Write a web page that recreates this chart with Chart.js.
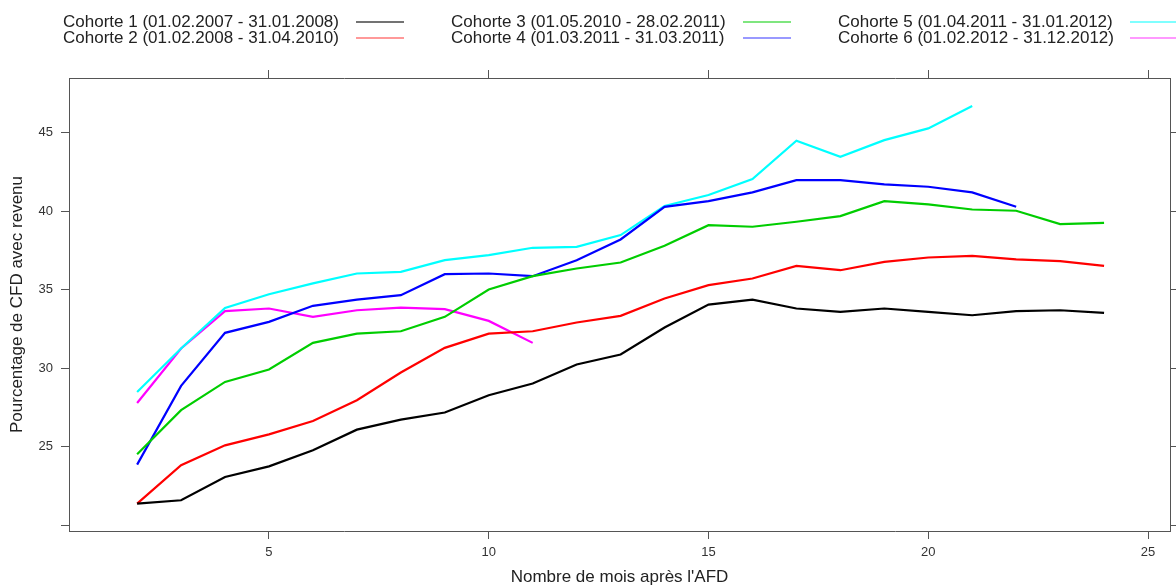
<!DOCTYPE html>
<html>
<head>
<meta charset="utf-8">
<script src="https://cdn.jsdelivr.net/npm/chart.js@4.4.1/dist/chart.umd.min.js"></script>
<style>
  html, body { margin: 0; padding: 0; background: #fff; }
  #wrap { width: 1176px; height: 588px; }
</style>
</head>
<body>
<div id="wrap"><canvas id="cohortChart"></canvas></div>
<script>
//Data
const months = [2, 3, 4, 5, 6, 7, 8, 9, 10, 11, 12, 13, 14, 15, 16, 17, 18, 19, 20, 21, 22, 23, 24];

const cohortLabels = [
    "Cohorte 1 (01.02.2007 - 31.01.2008)",
    "Cohorte 2 (01.02.2008 - 31.04.2010)",
    "Cohorte 3 (01.05.2010 - 28.02.2011)",
    "Cohorte 4 (01.03.2011 - 31.03.2011)",
    "Cohorte 5 (01.04.2011 - 31.01.2012)",
    "Cohorte 6 (01.02.2012 - 31.12.2012)"
];

const cohorte1 = [21.36, 21.58, 23.06, 23.74, 24.76, 26.08, 26.72, 27.17, 28.27, 29.02, 30.23, 30.87,
                  32.59, 34.05, 34.37, 33.80, 33.58, 33.80, 33.58, 33.37, 33.63, 33.69, 33.52];
const cohorte2 = [21.36, 23.81, 25.08, 25.78, 26.63, 27.95, 29.72, 31.29, 32.20, 32.35, 32.91, 33.33,
                  34.44, 35.29, 35.71, 36.52, 36.24, 36.77, 37.05, 37.16, 36.93, 36.82, 36.52];
const cohorte3 = [24.51, 27.32, 29.12, 29.91, 31.61, 32.20, 32.35, 33.27, 35.01, 35.86, 36.35, 36.73,
                  37.80, 39.11, 39.01, 39.33, 39.69, 40.64, 40.43, 40.11, 40.03, 39.18, 39.26];
const cohorte4 = [23.85, 28.87, 32.25, 32.95, 33.97, 34.37, 34.65, 35.99, 36.03, 35.86, 36.88, 38.20,
                  40.28, 40.64, 41.20, 41.98, 41.98, 41.71, 41.56, 41.20, 40.28];
const cohorte5 = [28.48, 31.25, 33.84, 34.71, 35.40, 36.03, 36.14, 36.88, 37.20, 37.67, 37.73, 38.48,
                  40.33, 41.03, 42.05, 44.49, 43.47, 44.53, 45.28, 46.70];
const cohorte6 = [27.78, 31.25, 33.63, 33.80, 33.27, 33.69, 33.86, 33.76, 33.01, 31.61];

const xTicks = [5, 10, 15, 20, 25];
const yTicks = [20, 25, 30, 35, 40, 45];

const cohortValues = [cohorte1, cohorte2, cohorte3, cohorte4, cohorte5, cohorte6];
const lineColors = ["#000000", "#ff0000", "#00cd00", "#0000ff", "#00ffff", "#ff00ff"];
const legendColors = ["rgba(0,0,0,0.55)", "rgba(255,0,0,0.4)", "rgba(0,205,0,0.5)",
                      "rgba(0,0,255,0.4)", "rgba(0,255,255,0.5)", "rgba(255,0,255,0.4)"];

const axisColor = "#555555";
const fontName = "'Liberation Sans', Arial, sans-serif";

let datasets = [];
for (let i = 0; i < cohortValues.length; i++){
    datasets.push({
        label: cohortLabels[i],
        data: cohortValues[i].map((v, j) => ({x: months[j], y: v})),
        borderColor: lineColors[i],
        borderWidth: 2.2,
        pointRadius: 0,
        tension: 0,
        fill: false
    });
}

//legend drawn in three columns, text then line sample
const legendTextX = [63, 451, 838];
const legendLineX = [356, 743, 1130];
const legendRowY = [22, 38];

const legendPlugin = {
    id: 'latticeLegend',
    afterDraw(chart) {
        const ctx = chart.ctx;
        ctx.save();
        ctx.font = "17px " + fontName;
        ctx.textBaseline = "middle";
        ctx.textAlign = "left";
        chart.data.datasets.forEach((ds, i) => {
            const col = Math.floor(i / 2);
            const row = i % 2;
            ctx.fillStyle = "#222";
            ctx.fillText(ds.label, legendTextX[col], legendRowY[row]);
            ctx.strokeStyle = legendColors[i];
            ctx.lineWidth = 2;
            ctx.beginPath();
            ctx.moveTo(legendLineX[col], legendRowY[row]);
            ctx.lineTo(legendLineX[col] + 48, legendRowY[row]);
            ctx.stroke();
        });
        ctx.restore();
    }
};

const setTicks = list => scale => { scale.ticks = list.map(v => ({value: v})); };

const tickMarks = {drawOnChartArea: false, drawTicks: true, tickLength: 8, color: axisColor, lineWidth: 1};

let containerChart = document.querySelector("#cohortChart").getContext('2d');
let cohortChart = new Chart(containerChart, {
    type: 'line',
    data: { datasets: datasets },
    plugins: [legendPlugin],
    options: {
        responsive: true,
        maintainAspectRatio: false,
        animation: false,
        layout: { padding: 0 },
        plugins: {
            legend: { display: false },
            tooltip: { enabled: false }
        },
        scales: {
            x: {
                type: 'linear',
                position: 'bottom',
                min: 0.45,
                max: 25.5,
                afterBuildTicks: setTicks(xTicks),
                afterFit: s => { s.height = 57; },
                grid: tickMarks,
                border: { display: true, color: axisColor, width: 1 },
                ticks: { color: "#333", font: { size: 13, family: fontName }, padding: 6, maxRotation: 0, autoSkip: false },
                title: { display: true, text: "Nombre de mois après l'AFD", color: "#222",
                         font: { size: 17, family: fontName }, padding: { top: 0, bottom: 0 } }
            },
            x2: {
                type: 'linear',
                axis: 'x',
                position: 'top',
                min: 0.45,
                max: 25.5,
                afterBuildTicks: setTicks(xTicks),
                afterFit: s => { s.height = 78; },
                grid: tickMarks,
                border: { display: true, color: axisColor, width: 1 },
                ticks: { callback: () => '' }
            },
            y: {
                type: 'linear',
                position: 'left',
                min: 19.62,
                max: 48.49,
                afterBuildTicks: setTicks(yTicks),
                afterFit: s => { s.width = 69; },
                grid: tickMarks,
                border: { display: true, color: axisColor, width: 1 },
                ticks: { color: "#333", font: { size: 13, family: fontName }, padding: 8,
                         callback: v => (v === 20 ? '' : v) },
                title: { display: true, text: "Pourcentage de CFD avec revenu", color: "#222",
                         font: { size: 17, family: fontName }, padding: { top: 7, bottom: 0 } }
            },
            y2: {
                type: 'linear',
                axis: 'y',
                position: 'right',
                min: 19.62,
                max: 48.49,
                afterBuildTicks: setTicks(yTicks),
                afterFit: s => { s.width = 6; },
                grid: tickMarks,
                border: { display: true, color: axisColor, width: 1 },
                ticks: { callback: () => '' }
            }
        }
    }
});
</script>
</body>
</html>
